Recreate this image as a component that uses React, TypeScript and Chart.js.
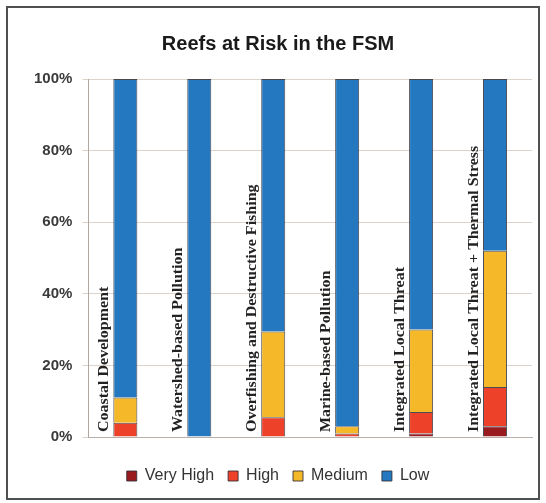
import React, { useEffect, useRef } from "react";
import { Chart, registerables } from "chart.js";

Chart.register(...registerables);

const categories = [
  "Coastal Development",
  "Watershed-based Pollution",
  "Overfishing and Destructive Fishing",
  "Marine-based Pollution",
  "Integrated Local Threat",
  "Integrated Local Threat + Thermal Stress",
];
const veryHigh = [0, 0, 0, 0, 1, 3];
const high = [4, 0, 5.5, 1, 6, 11];
const medium = [7, 0, 24, 2, 23, 38];
const low = [89, 100, 70.5, 97, 70, 48];
const yTicks = [0, 20, 40, 60, 80, 100];

const frame = {
  id: "frame",
  beforeDraw(chart: any) {
    const c = chart.ctx;
    c.save();
    c.fillStyle = "#ffffff";
    c.fillRect(0, 0, chart.width, chart.height);
    c.strokeStyle = "#505050";
    c.lineWidth = 2;
    c.strokeRect(7, 7, chart.width - 14, chart.height - 11);
    c.restore();
  },
};

const catLabels = {
  id: "catLabels",
  afterDatasetsDraw(chart: any) {
    const c = chart.ctx;
    const xs = chart.scales.x;
    const ys = chart.scales.y;
    c.save();
    c.font = "bold 16px 'Liberation Serif', serif";
    c.fillStyle = "#222";
    c.textAlign = "left";
    c.textBaseline = "middle";
    categories.forEach((name, i) => {
      const x = xs.getPixelForValue(i) - 21;
      const y = ys.getPixelForValue(0) - 5;
      c.save();
      c.translate(x, y);
      c.rotate(-Math.PI / 2);
      c.scale(1, 0.85);
      c.fillText(name, 0, 0);
      c.restore();
    });
    c.restore();
  },
};

export default function App() {
  const ref = useRef<HTMLCanvasElement>(null);
  useEffect(() => {
    if (!ref.current) return;
    const border = "rgba(45,45,55,0.85)";
    const mk = (label: string, data: number[], color: string) => ({
      label,
      data,
      backgroundColor: color,
      borderColor: border,
      borderWidth: 1,
      barPercentage: 0.325,
      categoryPercentage: 1,
    });
    const chart = new Chart(ref.current, {
      type: "bar",
      data: {
        labels: categories,
        datasets: [
          mk("Very High", veryHigh, "#9a1b1f"),
          mk("High", high, "#ee4129"),
          mk("Medium", medium, "#f4b828"),
          mk("Low", low, "#2478c0"),
        ],
      },
      options: {
        animation: false,
        responsive: false,
        layout: { padding: { left: 24, right: 14, top: 18, bottom: 9 } },
        plugins: {
          title: {
            display: true,
            text: "Reefs at Risk in the FSM",
            color: "#1a1a1a",
            font: { family: "'Liberation Sans', sans-serif", size: 20, weight: "bold" },
            padding: { top: 14, bottom: 23 },
          },
          legend: {
            position: "bottom",
            labels: {
              color: "#333",
              font: { family: "'Liberation Sans', sans-serif", size: 16 },
              boxWidth: 10,
              boxHeight: 10,
              padding: 14,
            },
          },
          tooltip: { enabled: false },
        },
        scales: {
          x: {
            stacked: true,
            grid: { display: false, drawTicks: false },
            border: { display: true, color: "#b8b0a8" },
            ticks: { display: false },
            afterFit: (s: any) => {
              s.height = 17;
            },
          },
          y: {
            stacked: true,
            min: 0,
            max: 100,
            afterBuildTicks: (s: any) => {
              s.ticks = yTicks.map((v) => ({ value: v }));
            },
            grid: { color: "#dcd3ca", tickLength: 6 },
            border: { display: true, color: "#b0a8a0" },
            ticks: {
              color: "#3a3a3a",
              padding: 10,
              font: { family: "'Liberation Sans', sans-serif", size: 15, weight: "bold" },
              callback: (v: any) => v + "%",
            },
          },
        },
      },
      plugins: [frame, catLabels],
    });
    return () => chart.destroy();
  }, []);
  return (
    <div style={{ position: "absolute", left: 0, top: 0, width: 546, height: 503 }}>
      <canvas ref={ref} width={546} height={503} style={{ display: "block" }} />
    </div>
  );
}
